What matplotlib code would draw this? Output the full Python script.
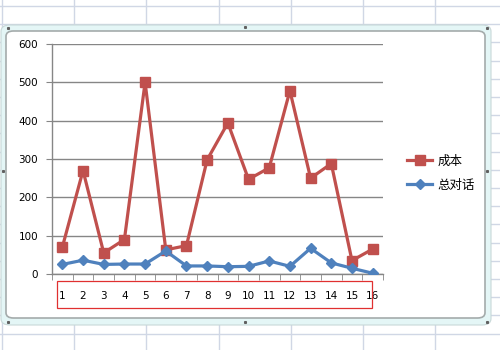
import matplotlib
matplotlib.use("Agg")
from matplotlib import pyplot as plt
from matplotlib.patches import FancyBboxPatch, Rectangle
from matplotlib.lines import Line2D
import numpy as np

plt.rcParams['font.family'] = ['Noto Sans CJK SC', 'DejaVu Sans']

categories = [str(i) for i in range(1, 17)]
cost = [70, 270, 55, 90, 500, 63, 74, 298, 394, 247, 277, 478, 250, 288, 35, 65]
talks = [25, 36, 25, 26, 26, 60, 21, 21, 19, 20, 34, 20, 67, 29, 15, 2]
series_names = ['成本', '总对话']
y_ticks = [0, 100, 200, 300, 400, 500, 600]

W, H = 500, 350
fig = plt.figure(figsize=(5, 3.5), dpi=100)

def fx(px):
    return px / W

def fy(py):
    return 1 - py / H

# spreadsheet grid behind the chart
grid_col = '#d0d7e5'
for gx in np.arange(2, W, 72.2):
    fig.add_artist(Line2D([fx(gx), fx(gx)], [0, 1], color=grid_col, lw=1, zorder=0))
for gy in np.arange(6, H, 18.2):
    fig.add_artist(Line2D([0, 1], [fy(gy), fy(gy)], color=grid_col, lw=1, zorder=0))

# chart area frame
outer = FancyBboxPatch((fx(1), fy(325)), fx(490), (325 - 25) / H,
                       boxstyle="round,pad=0,rounding_size=0.018",
                       transform=fig.transFigure, facecolor='#e4f6f6',
                       edgecolor='#c8d8d8', lw=0.8, zorder=1)
inner = FancyBboxPatch((fx(6), fy(318)), fx(479), (318 - 31) / H,
                       boxstyle="round,pad=0,rounding_size=0.015",
                       transform=fig.transFigure, facecolor='white',
                       edgecolor='#a4abab', lw=1.2, zorder=2)
fig.add_artist(outer)
fig.add_artist(inner)

# selection handle dots
for hx, hy in [(8, 28), (245, 27), (487, 28), (487, 171), (487, 322), (245, 322), (8, 322), (3, 171)]:
    fig.add_artist(Line2D([fx(hx)], [fy(hy)], marker='s', ms=1.2, color='#606060',
                          lw=0, zorder=3))

ax = fig.add_axes([fx(52), fy(274), fx(383 - 52), (274 - 44) / H])
ax.set_zorder(4)
ax.patch.set_alpha(0)

x = np.arange(1, len(categories) + 1)
l1, = ax.plot(x, cost, color='#c0504d', lw=2.3, marker='s', ms=7.5,
              label=series_names[0], zorder=3)
l2, = ax.plot(x, talks, color='#4f81bd', lw=2.3, marker='D', ms=5.5,
              label=series_names[1], zorder=4)

ax.set_xlim(0.5, len(categories) + 0.5)
ax.set_ylim(0, 600)
ax.set_yticks(y_ticks)
ax.set_yticklabels([str(v) for v in y_ticks], fontsize=7.5, family='DejaVu Sans')
ax.set_xticks(x)
ax.set_xticklabels(categories, fontsize=7.5, family='DejaVu Sans')
ax.set_xticks(np.arange(0.5, len(categories) + 1), minor=True)
ax.tick_params(axis='x', which='major', length=0, pad=12)
ax.tick_params(axis='x', which='minor', length=4, color='#868686', direction='out')
ax.tick_params(axis='y', length=4, color='#868686', pad=6)

ax.yaxis.grid(True, color='#868686', lw=1)
ax.set_axisbelow(True)
for s in ['top', 'right']:
    ax.spines[s].set_visible(False)
for s in ['left', 'bottom']:
    ax.spines[s].set_color('#868686')
    ax.spines[s].set_linewidth(1)

# red box around category labels
ax.add_patch(Rectangle((0.015, -0.148), 0.952, 0.118, transform=ax.transAxes,
                       fill=False, edgecolor='#e03030', lw=0.9, clip_on=False))

fig.legend(handles=[l1, l2], loc='center left', bbox_to_anchor=(fx(396), fy(173)),
           frameon=False, fontsize=9, handlelength=2.0, handletextpad=0.4,
           labelspacing=0.9, markerscale=0.9)

fig.savefig('out.png', dpi=100)
